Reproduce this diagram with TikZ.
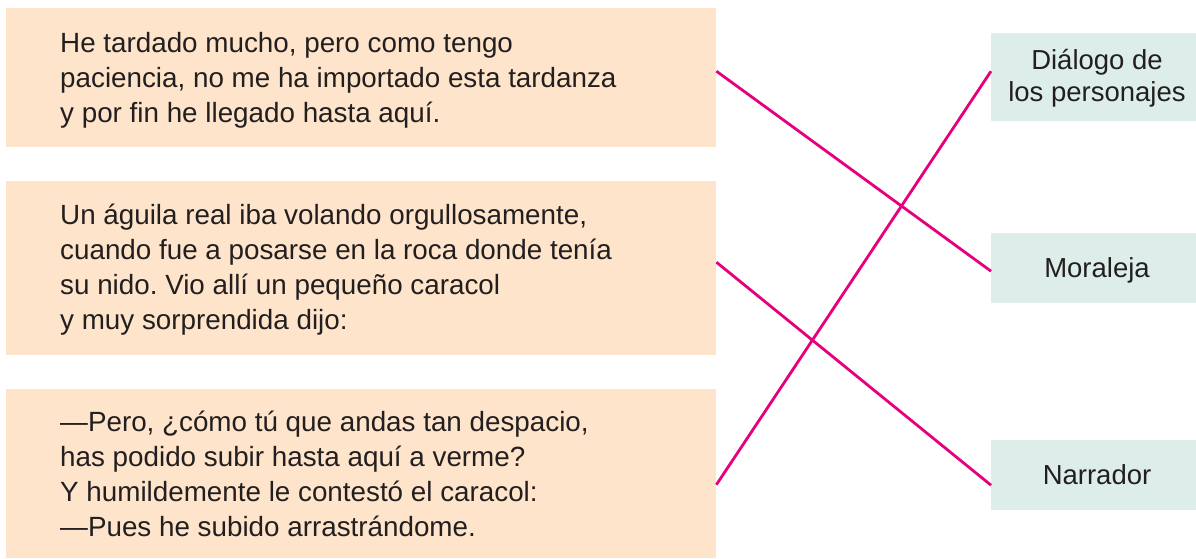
\documentclass[tikz,border=0pt]{standalone}
\usepackage{fontspec}
\setmainfont{Liberation Sans}
\frenchspacing
\definecolor{peach}{HTML}{FDE4CA}
\definecolor{mint}{HTML}{DDEEEA}
\definecolor{mag}{HTML}{E6007E}
\definecolor{ink}{HTML}{231F20}
\begin{document}
\begin{tikzpicture}[x=1pt,y=1pt,
  story/.style={fill=peach, draw=none, anchor=north west, inner sep=0pt},
  kind/.style={fill=mint, draw=none, anchor=north west, inner sep=0pt},
  txt/.style={anchor=base west, inner sep=0pt, align=left, text=ink,
    font=\fontsize{27.8}{35}\selectfont},
  ctxt/.style={anchor=base, inner sep=0pt, align=center, text=ink,
    font=\fontsize{27.5}{32}\selectfont},
  link/.style={draw=mag, line width=2.8pt}]
\useasboundingbox (0,0) rectangle (1196,559);
% story boxes
\node[story, minimum width=710pt, minimum height=139pt] (b1) at (6,551) {};
\node[story, minimum width=710pt, minimum height=174pt] (b2) at (6,378) {};
\node[story, minimum width=710pt, minimum height=169pt] (b3) at (6,170) {};
% kind boxes
\node[kind, minimum width=205pt, minimum height=88pt] (k1) at (991,526) {};
\node[kind, minimum width=205pt, minimum height=70pt] (k2) at (991,326) {};
\node[kind, minimum width=205pt, minimum height=70pt] (k3) at (991,119) {};
% texts (base anchor = baseline of last line)
\node[txt] (t1) at (60,436) {He tardado mucho, pero como tengo\\paciencia, no me ha importado esta tardanza\\y por fin he llegado hasta aquí.};
\node[txt] (t2) at (60,229) {Un águila real iba volando orgullosamente,\\cuando fue a posarse en la roca donde tenía\\su nido. Vio allí un pequeño caracol\\y muy sorprendida dijo:};
\node[txt] (t3) at (60,22) {—Pero, ¿cómo tú que andas tan despacio,\\has podido subir hasta aquí a verme?\\Y humildemente le contestó el caracol:\\—Pues he subido arrastrándome.};
\node[ctxt] (l1) at (1097,457) {Diálogo de\\los personajes};
\node[ctxt] (l2) at (1097,281) {Moraleja};
\node[ctxt] (l3) at (1097,74) {Narrador};
% connectors
\coordinate (s1) at ([yshift=6.5pt]b1.east);
\coordinate (s2) at ([yshift=6pt]b2.east);
\coordinate (s3) at ([yshift=-11pt]b3.east);
\coordinate (e1) at ([yshift=6pt]k1.west);
\coordinate (e2) at ([yshift=-3pt]k2.west);
\coordinate (e3) at ([yshift=-10pt]k3.west);
\draw[link] (s1) -- (e2);
\draw[link] (s2) -- (e3);
\draw[link] (s3) -- (e1);
\end{tikzpicture}
\end{document}
